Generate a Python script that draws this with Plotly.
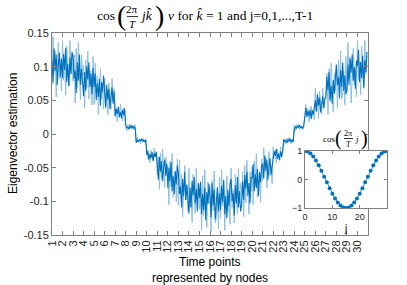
import plotly.graph_objects as go

# time points on the x axis, each one represented by a block of nodes
time_points = list(range(1, 31))
nodes_per_point = 10

# eigenvector estimation, in thousandths, one row per time point
est_dark = [
    [109, 76, 127, 94, 118, 73, 103, 121, 85, 112],
    [83, 119, 95, 128, 77, 104, 71, 113, 89, 122],
    [115, 82, 94, 61, 106, 79, 118, 73, 97, 67],
    [56, 92, 64, 101, 81, 106, 70, 89, 59, 98],
    [70, 90, 50, 75, 55, 82, 42, 77, 62, 87],
    [61, 39, 73, 51, 67, 37, 57, 69, 45, 63],
    [26, 37, 30, 40, 25, 33, 23, 36, 28, 38],
    [12, 9, 10, 7, 12, 9, 13, 8, 11, 8],
    [-13, -9, -12, -8, -10, -7, -11, -9, -12, -8],
    [-31, -25, -38, -30, -36, -27, -40, -29, -34, -26],
    [-46, -68, -34, -56, -40, -70, -50, -38, -62, -44],
    [-80, -50, -70, -42, -85, -62, -89, -55, -75, -47],
    [-59, -89, -78, -109, -67, -92, -56, -98, -75, -103],
    [-118, -79, -109, -70, -91, -64, -103, -82, -115, -73],
    [-95, -71, -119, -89, -113, -80, -128, -86, -104, -74],
    [-91, -124, -73, -106, -82, -127, -97, -79, -115, -88],
    [-113, -77, -101, -68, -119, -92, -125, -83, -107, -74],
    [-67, -100, -88, -121, -76, -103, -64, -109, -85, -115],
    [-106, -70, -98, -61, -81, -56, -92, -73, -103, -64],
    [-65, -45, -85, -60, -80, -52, -92, -57, -72, -47],
    [-44, -66, -32, -54, -38, -68, -48, -36, -60, -42],
    [-36, -25, -32, -22, -37, -29, -39, -26, -34, -24],
    [-8, -11, -10, -13, -8, -11, -7, -12, -9, -12],
    [7, 11, 8, 12, 10, 13, 9, 11, 8, 12],
    [32, 39, 25, 34, 27, 36, 22, 35, 29, 38],
    [50, 33, 59, 42, 54, 32, 47, 56, 38, 51],
    [54, 85, 65, 92, 50, 72, 45, 80, 60, 87],
    [103, 73, 84, 53, 95, 70, 106, 64, 87, 59],
    [64, 103, 73, 112, 91, 118, 79, 100, 67, 109],
    [101, 125, 77, 107, 83, 116, 68, 110, 92, 122],
]

est_light = [
    [73, 145, 91, 123, 55, 114, 136, 82, 105, 64],
    [139, 80, 107, 58, 130, 94, 71, 139, 89, 116],
    [78, 118, 46, 127, 69, 136, 100, 51, 118, 87],
    [102, 39, 110, 68, 123, 52, 60, 94, 43, 115],
    [44, 105, 59, 86, 29, 78, 97, 52, 71, 37],
    [82, 43, 61, 28, 76, 52, 37, 82, 49, 67],
    [27, 39, 18, 41, 25, 44, 34, 19, 39, 30],
    [13, 5, 14, 9, 15, 7, 8, 12, 6, 14],
    [-13, -5, -11, -8, -15, -9, -6, -12, -10, -14],
    [-21, -37, -30, -43, -24, -33, -39, -21, -34, -27],
    [-61, -34, -82, -28, -67, -22, -46, -79, -34, -55],
    [-48, -105, -40, -78, -29, -94, -86, -56, -101, -37],
    [-106, -39, -89, -60, -123, -68, -47, -98, -77, -115],
    [-51, -109, -82, -132, -60, -96, -118, -51, -100, -73],
    [-112, -71, -143, -62, -121, -53, -89, -139, -71, -103],
    [-78, -145, -69, -114, -55, -132, -123, -87, -141, -64],
    [-125, -53, -107, -76, -143, -85, -62, -116, -94, -134],
    [-51, -109, -82, -132, -60, -96, -118, -51, -100, -73],
    [-94, -56, -123, -47, -102, -39, -73, -119, -56, -85],
    [-48, -105, -40, -78, -29, -94, -86, -56, -101, -37],
    [-68, -20, -56, -35, -80, -41, -26, -62, -47, -74],
    [-19, -36, -28, -43, -22, -32, -39, -19, -34, -26],
    [-12, -7, -15, -6, -13, -5, -9, -15, -7, -11],
    [13, 5, 14, 9, 15, 7, 8, 12, 6, 14],
    [23, 44, 28, 38, 18, 35, 41, 26, 32, 21],
    [68, 35, 50, 23, 63, 43, 30, 68, 40, 55],
    [56, 90, 29, 97, 48, 105, 75, 33, 90, 63],
    [102, 39, 110, 68, 123, 52, 60, 94, 43, 115],
    [64, 136, 82, 114, 46, 105, 127, 73, 96, 55],
    [139, 80, 107, 58, 130, 94, 71, 139, 89, 116],
]

y_ticks = [-0.15, -0.1, -0.05, 0, 0.05, 0.1, 0.15]
y_tick_text = ['-0.15', '-0.1', '-0.05', '0', '0.05', '0.1', '0.15']

# inset: cos(2*pi/T * j)
j_values = list(range(0, 31))
cos_values = [1.0, 0.98, 0.91, 0.81, 0.67, 0.5, 0.31, 0.1, -0.1, -0.31, -0.5,
              -0.67, -0.81, -0.91, -0.98, -1.0, -0.98, -0.91, -0.81, -0.67, -0.5,
              -0.31, -0.1, 0.1, 0.31, 0.5, 0.67, 0.81, 0.91, 0.98, 1.0]

BLUE = '#0072BD'
LIGHT_BLUE = '#8CBFE3'
AXIS = '#808080'
TXT = '#262626'
SANS = 'Liberation Sans, Arial, sans-serif'
SERIF = 'Liberation Serif, Times New Roman, serif'

# plot area in pixels (paper spans x 52..387, y 33..235)
L, R, T, B = 52, 20, 33, 50
W, H = 407, 285
PW, PH = W - L - R, H - T - B


def px(x):
    return (x - L) / PW


def py(y):
    return (H - B - y) / PH


def node_series(rows):
    xs, ys = [], []
    for k, row in zip(time_points, rows):
        for i, v in enumerate(row):
            xs.append(k + i / nodes_per_point)
            ys.append(v / 1000)
    return xs, ys


fig = go.Figure()

x_l, y_l = node_series(est_light)
x_d, y_d = node_series(est_dark)
fig.add_trace(go.Scatter(x=x_l, y=y_l, mode='lines', line={'color': LIGHT_BLUE, 'width': 1}, xaxis='x', yaxis='y'))
fig.add_trace(go.Scatter(x=x_d, y=y_d, mode='lines', line={'color': BLUE, 'width': 1.1}, xaxis='x', yaxis='y'))

fig.add_trace(go.Scatter(
    x=j_values, y=cos_values, mode='lines+markers',
    line={'color': BLUE, 'width': 0.8},
    marker={'color': BLUE, 'size': 4},
    xaxis='x2', yaxis='y2'
))

axis_common = dict(
    showline=True, linecolor=AXIS, linewidth=1, mirror='ticks',
    ticks='inside', tickcolor=AXIS, showgrid=False, zeroline=False,
)

fig.update_layout(
    width=W, height=H,
    margin={'l': L, 'r': R, 't': T, 'b': B},
    paper_bgcolor='white', plot_bgcolor='white',
    showlegend=False,
    xaxis=dict(
        axis_common, domain=[0, (368 - L) / PW], range=[1, 31],
        tickvals=time_points, tickangle=-90, ticklen=4,
        tickfont={'family': SANS, 'size': 11, 'color': TXT},
    ),
    yaxis=dict(
        axis_common, range=[-0.15, 0.15], tickvals=y_ticks, ticktext=y_tick_text,
        ticklen=4, tickfont={'family': SANS, 'size': 11, 'color': TXT},
    ),
    xaxis2=dict(
        axis_common, domain=[px(305), 1], anchor='y2', range=[0, 30],
        tickvals=[0, 10, 20], ticklen=3,
        tickfont={'family': SANS, 'size': 9, 'color': TXT},
    ),
    yaxis2=dict(
        axis_common, domain=[py(208), py(151)], anchor='x2', range=[-1, 1],
        tickvals=[-1, 0, 1], ticklen=3,
        tickfont={'family': SANS, 'size': 9, 'color': TXT},
    ),
)


def note(text, x, y, size, family=SERIF, **kw):
    fig.add_annotation(text=text, x=px(x), y=py(y), xref='paper', yref='paper',
                       showarrow=False, xanchor=kw.pop('xanchor', 'center'), yanchor='middle',
                       font={'family': family, 'size': size, 'color': 'black'}, **kw)


def frac_bar(x0, x1, y):
    fig.add_shape(type='line', xref='paper', yref='paper', x0=px(x0), x1=px(x1),
                  y0=py(y), y1=py(y), line={'color': 'black', 'width': 0.8})


# main title: cos((2pi/T) j k^) v for k^ = 1 and j=0,1,...,T-1
note('cos', 106, 16, 13.5)
note('(', 121, 16, 28)
note('2π', 132, 9, 11)
frac_bar(127, 138, 16.5)
note('<i>T</i>', 132, 24, 11)
note('<i>jk̂</i>', 146, 16, 13.5)
note(')', 159, 16, 28)
note('<i>v</i> for <i>k̂</i> = 1 and j=0,1,...,T-1', 166, 16, 13.5, xanchor='left')

# inset title: cos((2pi/T) j)
note('cos', 329, 139, 9)
note('(', 338, 138, 20)
note('2π', 348, 133, 8)
frac_bar(344, 353, 138.5)
note('<i>T</i>', 348, 144, 8)
note('<i>j</i>', 357, 139, 9)
note(')', 364, 138, 20)
note('j', 345, 228, 10, family=SANS)

# axis titles
note('Eigenvector estimation', 13, 134, 12, family=SANS, textangle=-90)
note('Time points', 210, 262, 12, family=SANS)
note('represented by nodes', 210, 278, 12, family=SANS)

fig.write_html('out.html', config={'displayModeBar': False},
               post_script="document.body.style.margin='0';")
